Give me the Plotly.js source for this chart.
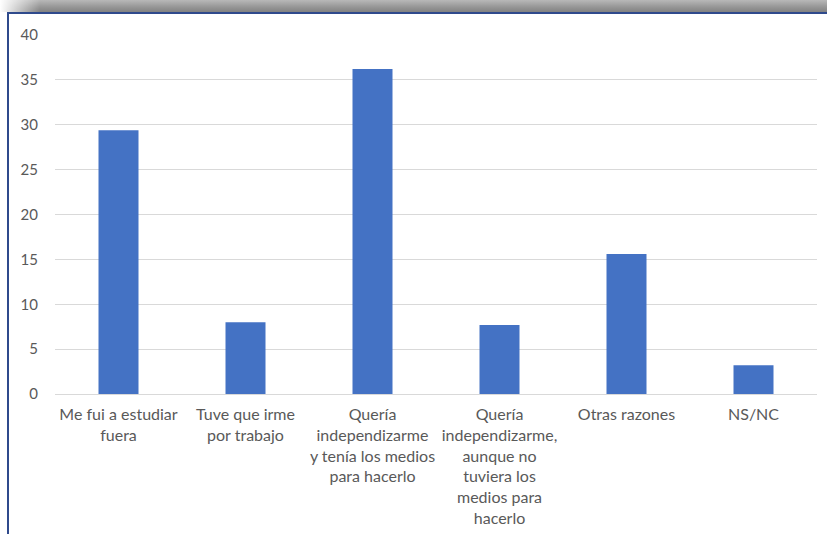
<!DOCTYPE html>
<html>
<head>
<meta charset="utf-8">
<script src="https://cdn.plot.ly/plotly-3.0.1.min.js"></script>
<style>
  html, body { margin: 0; padding: 0; background: #fff; }
  #wrap { position: relative; width: 827px; height: 534px; overflow: hidden; background: #fff; }
  #shadow { position: absolute; left: 0; top: 0; width: 827px; height: 12px;
    background: linear-gradient(to bottom, #b8b8b8 0%, #959595 60%, #828282 100%); }
  #shadowfade { position: absolute; left: 0; top: 0; width: 40px; height: 12px;
    background: linear-gradient(to right, #ffffff 0%, rgba(255,255,255,0) 100%); }
  #frame { position: absolute; left: 7px; top: 12px; width: 830px; height: 530px;
    border-left: 2px solid #2f4a8c; border-top: 2px solid #2f4a8c; box-sizing: border-box; }
  #chart { position: absolute; left: 9px; top: 14px; width: 818px; height: 520px; }
</style>
</head>
<body>
<div id="wrap">
  <div id="shadow"></div>
  <div id="shadowfade"></div>
  <div id="frame"></div>
  <div id="chart"></div>
</div>
<script>
const categories = [
  "Me fui a estudiar<br>fuera",
  "Tuve que irme<br>por trabajo",
  "Quería<br>independizarme<br>y tenía los medios<br>para hacerlo",
  "Quería<br>independizarme,<br>aunque no<br>tuviera los<br>medios para<br>hacerlo",
  "Otras razones",
  "NS/NC"
];
const values = [29.4, 8.0, 36.2, 7.7, 15.6, 3.2];
const yTicks = [0, 5, 10, 15, 20, 25, 30, 35, 40];

const trace = {
  type: "bar",
  x: categories,
  y: values,
  marker: { color: "#4472C4" },
  hoverinfo: "x+y"
};

const layout = {
  width: 818,
  height: 520,
  margin: { l: 46, r: 10, t: 21, b: 140 },
  paper_bgcolor: "#ffffff",
  plot_bgcolor: "#ffffff",
  bargap: 0.685,
  showlegend: false,
  font: { family: "Lato, 'Open Sans', sans-serif", size: 15, color: "#595959" },
  xaxis: {
    type: "category",
    showgrid: false,
    showline: false,
    zeroline: false,
    ticks: "",
    tickangle: 0,
    automargin: false,
    ticklabelstandoff: 9,
    tickfont: { family: "Lato, 'Open Sans', sans-serif", size: 16, color: "#595959" }
  },
  yaxis: {
    range: [0, 40],
    tickvals: yTicks,
    ticktext: yTicks.map(String),
    showgrid: true,
    gridcolor: "#d9d9d9",
    gridwidth: 1,
    zeroline: true,
    zerolinecolor: "#d9d9d9",
    zerolinewidth: 1,
    showline: false,
    ticks: "",
    automargin: false,
    ticklabelstandoff: 16,
    tickfont: { family: "Lato, 'Open Sans', sans-serif", size: 15, color: "#595959" }
  }
};

Plotly.newPlot("chart", [trace], layout, { displayModeBar: false, staticPlot: true });
</script>
</body>
</html>
